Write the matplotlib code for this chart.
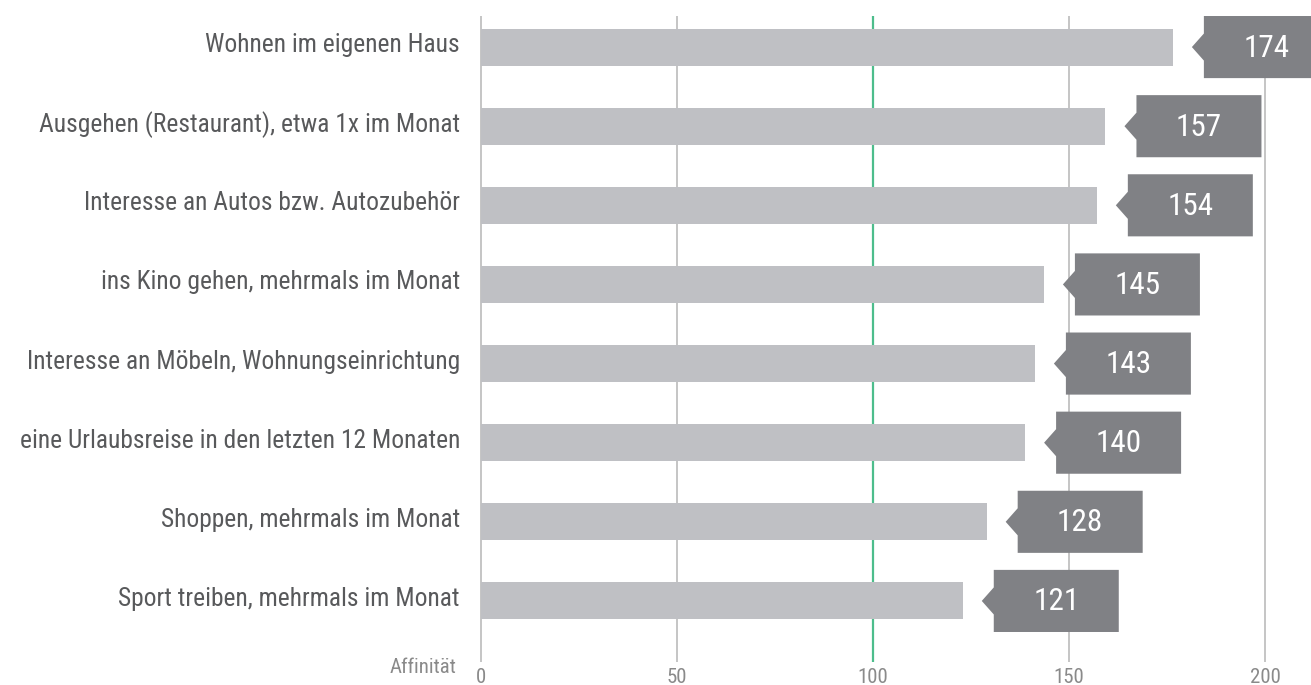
import matplotlib.pyplot as plt
from matplotlib.patches import Polygon

plt.rcParams['font.family'] = ['Roboto Condensed', 'Liberation Sans Narrow', 'Roboto', 'DejaVu Sans']

# === Daten ===
kategorien = [
    "Wohnen im eigenen Haus",
    "Ausgehen (Restaurant), etwa 1x im Monat",
    "Interesse an Autos bzw. Autozubehör",
    "ins Kino gehen, mehrmals im Monat",
    "Interesse an Möbeln, Wohnungseinrichtung",
    "eine Urlaubsreise in den letzten 12 Monaten",
    "Shoppen, mehrmals im Monat",
    "Sport treiben, mehrmals im Monat",
]
affinitaet = [174, 157, 154, 145, 143, 140, 128, 121]
# Balkenlängen
balken = [176.5, 159.3, 157.1, 143.6, 141.3, 138.8, 129.0, 122.9]
ticks = [0, 50, 100, 150, 200]

BAR_COL = "#bfc0c4"
BOX_COL = "#808185"
GRID_COL = "#b5b5b5"
GREEN = "#4dbd8c"
TXT_COL = "#58595b"
TICK_COL = "#8a8a8a"

W, H = 1311, 685
fig = plt.figure(figsize=(W / 100, H / 100), dpi=100)
ax = fig.add_axes([481 / W, (H - 640.5) / H, 784 / W, 633 / H])
ax.set_xlim(0, 200)
ax.set_ylim(7.5, -0.5)

# Gitterlinien
px = 200 / 784          # Dateneinheiten pro Pixel (x)
py = 1 / 79             # Dateneinheiten pro Pixel (y)
for t in ticks:
    col = GREEN if t == 100 else GRID_COL
    lw = 1.6 if t == 100 else 1.1
    ax.vlines(t, -31 * py, 7 + 61 * py, color=col, lw=lw, clip_on=False, zorder=1)

y = list(range(len(kategorien)))
ax.barh(y, balken, height=37 / 79, color=BAR_COL, zorder=2)

# Kästchen mit Pfeil
gap, arrow, bw = 19 * px, 12 * px, 125 * px
bh, ah = 62 * py, 13.5 * py
for i, (b, v) in enumerate(zip(balken, affinitaet)):
    x0 = b + gap
    x1 = x0 + arrow
    pts = [(x0, i), (x1, i - ah), (x1, i - bh / 2), (x1 + bw, i - bh / 2),
           (x1 + bw, i + bh / 2), (x1, i + bh / 2), (x1, i + ah)]
    ax.add_patch(Polygon(pts, closed=True, color=BOX_COL, lw=0, clip_on=False, zorder=3))
    ax.text(x1 + bw / 2, i + 1 * py, str(v), color="white", fontsize=22.5,
            ha="center", va="center", zorder=4)

# Kategorienbeschriftung
for i, k in enumerate(kategorien):
    ax.text(-21 * px, i - 2 * py, k, color=TXT_COL, fontsize=18.4, ha="right", va="center")

ax.set_xticks(ticks)
ax.set_xticklabels([str(t) for t in ticks], color=TICK_COL, fontsize=15)
ax.tick_params(axis="x", length=0, pad=20)
ax.set_yticks([])
ax.text(-25 * px, 7 + 72 * py, "Affinität", color=TICK_COL, fontsize=15,
        ha="right", va="baseline")

for s in ax.spines.values():
    s.set_visible(False)
ax.patch.set_alpha(0)

fig.savefig("out.png", dpi=100)
